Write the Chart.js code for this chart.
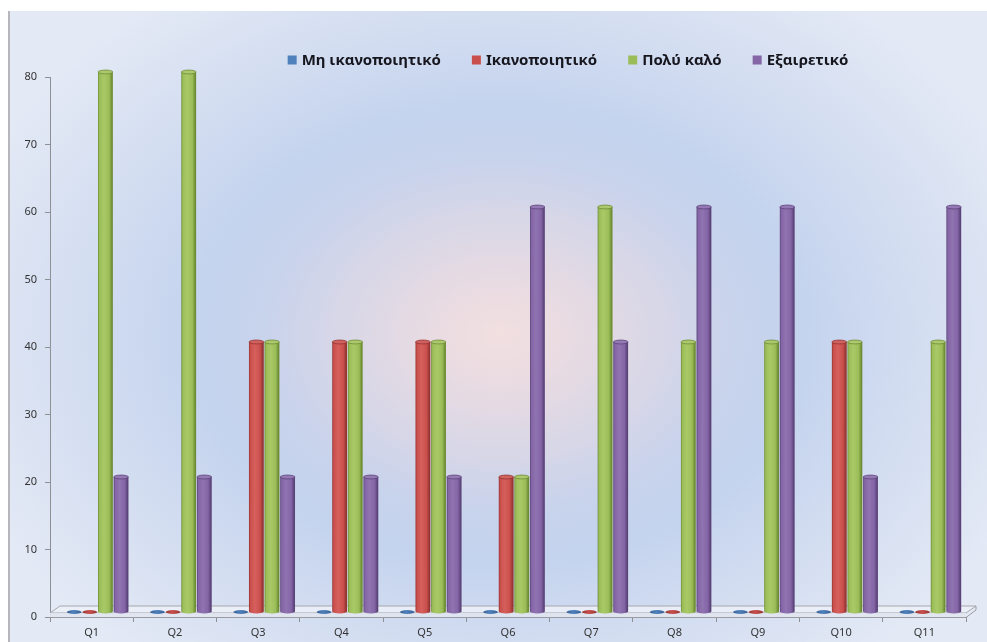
<!DOCTYPE html>
<html>
<head>
<meta charset="utf-8">
<script src="https://cdn.jsdelivr.net/npm/chart.js@4/dist/chart.umd.min.js"></script>
<style>
  html, body { margin: 0; padding: 0; background: #ffffff; }
  #wrap { position: relative; width: 987px; height: 642px; }
  canvas { display: block; }
</style>
</head>
<body>
<div id="wrap"><canvas id="chart" width="987" height="642"></canvas></div>
<script>
// Survey answers per question (percent of respondents)
const categories = ['Q1', 'Q2', 'Q3', 'Q4', 'Q5', 'Q6', 'Q7', 'Q8', 'Q9', 'Q10', 'Q11'];
const seriesNames = ['Μη ικανοποιητικό', 'Ικανοποιητικό', 'Πολύ καλό', 'Εξαιρετικό'];
const notSatisfactory = [0, 0, 0, 0, 0, 0, 0, 0, 0, 0, 0];
const satisfactory    = [0, 0, 40, 40, 40, 20, 0, 0, 0, 40, 0];
const veryGood        = [80, 80, 40, 40, 40, 20, 60, 40, 40, 40, 40];
const excellent       = [20, 20, 20, 20, 20, 60, 40, 60, 60, 20, 60];
const yTicks = [0, 10, 20, 30, 40, 50, 60, 70, 80];

// Cylinder shading per series
const palette = [
  { base: '#4f81bd', light: '#6a95cc', dark: '#375f90', top: '#6990c6' },
  { base: '#c94f4c', light: '#d6605d', dark: '#933431', top: '#d0615e' },
  { base: '#9bbd58', light: '#a9c967', dark: '#6d8c33', top: '#acc86d' },
  { base: '#8465a6', light: '#9073b1', dark: '#5b4379', top: '#9479b4' }
];

// 3D floor depth and the shift of the columns into it
const DEPTH_X = 10, DEPTH_Y = 11, FLOOR_T = 4;
const SHIFT_X = 6, SHIFT_Y = -5;

const backgroundPlugin = {
  id: 'panelBackground',
  beforeDraw(chart) {
    const ctx = chart.ctx;
    const W = chart.width, H = chart.height;
    ctx.save();
    ctx.fillStyle = '#ffffff';
    ctx.fillRect(0, 0, W, H);
    const x0 = 8, y0 = 11;
    const cx = 500, cy = 335, rx = 560, ry = 420;
    ctx.beginPath();
    ctx.rect(x0, y0, W - x0, H - y0);
    ctx.clip();
    ctx.translate(cx, cy);
    ctx.scale(1, ry / rx);
    const g = ctx.createRadialGradient(0, 0, 0, 0, 0, rx);
    g.addColorStop(0.00, '#f2dfe0');
    g.addColorStop(0.13, '#e8dbe2');
    g.addColorStop(0.28, '#d8d7e7');
    g.addColorStop(0.42, '#c8d3ec');
    g.addColorStop(0.54, '#c4d3ee');
    g.addColorStop(0.76, '#d4def1');
    g.addColorStop(1.00, '#e3e9f5');
    ctx.fillStyle = g;
    ctx.fillRect(-cx, -cy * rx / ry, W * 2, H * 2 * rx / ry);
    ctx.restore();
    ctx.save();
    ctx.fillStyle = '#b7b6bb';
    ctx.fillRect(x0, y0, 2, H - y0);
    ctx.restore();
  }
};

const floorPlugin = {
  id: 'floor3d',
  beforeDatasetsDraw(chart) {
    const ctx = chart.ctx;
    const a = chart.chartArea;
    const yb = chart.scales.y.getPixelForValue(0);
    const yf = yb - FLOOR_T;
    ctx.save();
    // top face
    ctx.beginPath();
    ctx.moveTo(a.left, yf);
    ctx.lineTo(a.right, yf);
    ctx.lineTo(a.right + DEPTH_X, yb - DEPTH_Y);
    ctx.lineTo(a.left + DEPTH_X, yb - DEPTH_Y);
    ctx.closePath();
    ctx.fillStyle = 'rgba(236,240,248,0.85)';
    ctx.fill();
    ctx.strokeStyle = '#a6a7ad';
    ctx.lineWidth = 1;
    ctx.stroke();
    // front face
    ctx.beginPath();
    ctx.moveTo(a.left, yf);
    ctx.lineTo(a.right, yf);
    ctx.lineTo(a.right, yb);
    ctx.lineTo(a.left, yb);
    ctx.closePath();
    ctx.fillStyle = 'rgba(225,230,240,0.9)';
    ctx.fill();
    ctx.beginPath();
    ctx.moveTo(a.left, yb + 0.5);
    ctx.lineTo(a.right, yb + 0.5);
    ctx.lineTo(a.right + DEPTH_X, yb - DEPTH_Y + 4);
    ctx.lineTo(a.right + DEPTH_X, yb - DEPTH_Y);
    ctx.strokeStyle = '#9a9ba2';
    ctx.stroke();
    ctx.restore();
  }
};

function drawCylinder(ctx, cx, top, bottom, w, col) {
  const rx = w / 2, ry = Math.max(1.6, w * 0.13);
  const l = cx - rx, r = cx + rx;
  if (bottom - top < 0.5) {
    ctx.beginPath();
    ctx.ellipse(cx, bottom, rx, ry, 0, 0, Math.PI * 2);
    const gd = ctx.createLinearGradient(l, 0, r, 0);
    gd.addColorStop(0, col.dark);
    gd.addColorStop(0.45, col.base);
    gd.addColorStop(1, col.dark);
    ctx.fillStyle = gd;
    ctx.fill();
    return;
  }
  const g = ctx.createLinearGradient(l, 0, r, 0);
  g.addColorStop(0.00, col.dark);
  g.addColorStop(0.10, col.base);
  g.addColorStop(0.40, col.light);
  g.addColorStop(0.75, col.base);
  g.addColorStop(0.94, col.dark);
  g.addColorStop(1.00, col.dark);
  ctx.beginPath();
  ctx.moveTo(l, top);
  ctx.lineTo(l, bottom);
  ctx.ellipse(cx, bottom, rx, ry, 0, Math.PI, 0, true);
  ctx.lineTo(r, top);
  ctx.closePath();
  ctx.fillStyle = g;
  ctx.fill();
  ctx.beginPath();
  ctx.ellipse(cx, top, rx, ry, 0, 0, Math.PI * 2);
  ctx.fillStyle = col.top;
  ctx.fill();
  ctx.lineWidth = 0.8;
  ctx.strokeStyle = col.dark;
  ctx.stroke();
}

const cylinderPlugin = {
  id: 'cylinders',
  afterDatasetsDraw(chart) {
    const ctx = chart.ctx;
    ctx.save();
    chart.data.datasets.forEach((ds, i) => {
      const meta = chart.getDatasetMeta(i);
      if (meta.hidden) return;
      meta.data.forEach((el) => {
        const p = el.getProps(['x', 'y', 'base', 'width'], true);
        drawCylinder(ctx, p.x + SHIFT_X, p.y + SHIFT_Y, p.base + SHIFT_Y, p.width, palette[i]);
      });
    });
    ctx.restore();
  }
};

const legendPlugin = {
  id: 'topLegend',
  afterDraw(chart) {
    const ctx = chart.ctx;
    const box = 9, gapText = 5, gapItem = 31;
    const centerX = 568, cy = 60;
    ctx.save();
    ctx.font = 'bold 15px "Noto Sans", "DejaVu Sans", sans-serif';
    ctx.textBaseline = 'middle';
    const widths = chart.data.datasets.map(ds => ctx.measureText(ds.label).width);
    const total = widths.reduce((s, w) => s + box + gapText + w, 0) + gapItem * (widths.length - 1);
    let x = centerX - total / 2;
    chart.data.datasets.forEach((ds, i) => {
      ctx.fillStyle = palette[i].base;
      ctx.fillRect(x, cy - box / 2, box, box);
      ctx.fillStyle = '#16161e';
      ctx.fillText(ds.label, x + box + gapText, cy + 1);
      x += box + gapText + widths[i] + gapItem;
    });
    ctx.restore();
  }
};

const seriesValues = [notSatisfactory, satisfactory, veryGood, excellent];

new Chart(document.getElementById('chart'), {
  type: 'bar',
  data: {
    labels: categories,
    datasets: seriesNames.map((name, i) => ({
      label: name,
      data: seriesValues[i],
      backgroundColor: 'rgba(0,0,0,0)',
      borderWidth: 0,
      categoryPercentage: 0.75,
      barPercentage: 0.95
    }))
  },
  options: {
    responsive: false,
    devicePixelRatio: 1,
    animation: false,
    events: [],
    layout: { padding: { top: 77, right: 21, left: 0, bottom: 0 } },
    plugins: {
      legend: { display: false },
      tooltip: { enabled: false }
    },
    scales: {
      x: {
        afterFit(scale) { scale.height = 25; },
        border: { display: false },
        grid: { drawOnChartArea: false, drawTicks: true, tickLength: 5, color: '#8f9096', offset: true },
        ticks: { color: '#333333', padding: 4, font: { family: '"Noto Sans", sans-serif', size: 11 } }
      },
      y: {
        min: 0,
        max: 80,
        afterFit(scale) { scale.width = 50; },
        afterBuildTicks(scale) { scale.ticks = yTicks.map(v => ({ value: v })); },
        border: { display: true, color: '#8f9096', width: 1 },
        grid: { drawOnChartArea: false, drawTicks: true, tickLength: 5, color: '#8f9096' },
        ticks: { color: '#333333', padding: 8, font: { family: '"Noto Sans", sans-serif', size: 11 } }
      }
    }
  },
  plugins: [backgroundPlugin, floorPlugin, cylinderPlugin, legendPlugin]
});
</script>
</body>
</html>
